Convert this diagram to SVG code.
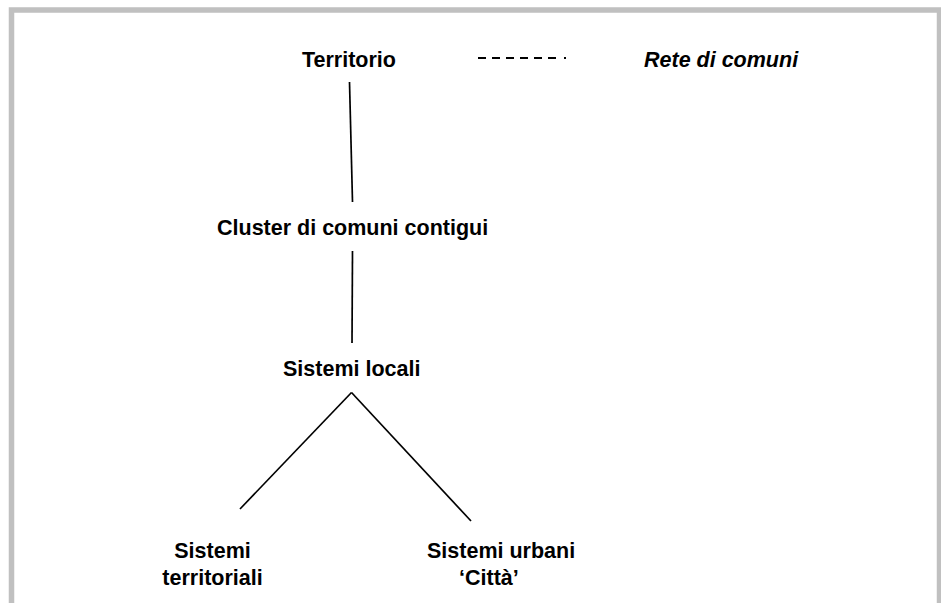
<svg xmlns="http://www.w3.org/2000/svg" width="941" height="603" viewBox="0 0 941 603">
  <style>
    .lbl { font-family: "Liberation Sans", Arial, sans-serif; font-size: 21.5px; font-weight: bold; fill: #000; }
    .it { font-style: italic; }
    .edge { stroke: #000; stroke-width: 1.7; fill: none; }
    .dash { stroke: #000; stroke-width: 2; fill: none; stroke-dasharray: 8 6 8 6 8 6 8 6 8 6 8 8 2 100; }
  </style>
  <rect width="941" height="603" fill="#fff"/>
  <!-- page frame -->
  <rect x="11.5" y="10" width="928" height="700" fill="none" stroke="#c0c0c0" stroke-width="5.5"/>

  <g id="connectors">
    <line class="dash" x1="478" y1="58" x2="566" y2="58"/>
    <line class="edge" x1="349.5" y1="82" x2="352.5" y2="202"/>
    <line class="edge" x1="352.5" y1="251" x2="352" y2="343"/>
    <line class="edge" x1="240" y1="509" x2="351.5" y2="392.5"/>
    <line class="edge" x1="351.5" y1="392.5" x2="471" y2="521"/>
  </g>

  <g id="territorio">
    <text class="lbl" x="302" y="67">Territorio</text>
  </g>
  <g id="rete-di-comuni">
    <text class="lbl it" x="644" y="67">Rete di comuni</text>
  </g>
  <g id="cluster">
    <text class="lbl" x="217" y="235">Cluster di comuni contigui</text>
  </g>
  <g id="sistemi-locali">
    <text class="lbl" x="283" y="376">Sistemi locali</text>
  </g>
  <g id="sistemi-territoriali">
    <text class="lbl" x="212.5" y="558" text-anchor="middle">Sistemi</text>
    <text class="lbl" x="212.5" y="585" text-anchor="middle">territoriali</text>
  </g>
  <g id="sistemi-urbani">
    <text class="lbl" x="427" y="558">Sistemi urbani</text>
    <text class="lbl" x="459" y="585">‘Città’</text>
  </g>
</svg>
